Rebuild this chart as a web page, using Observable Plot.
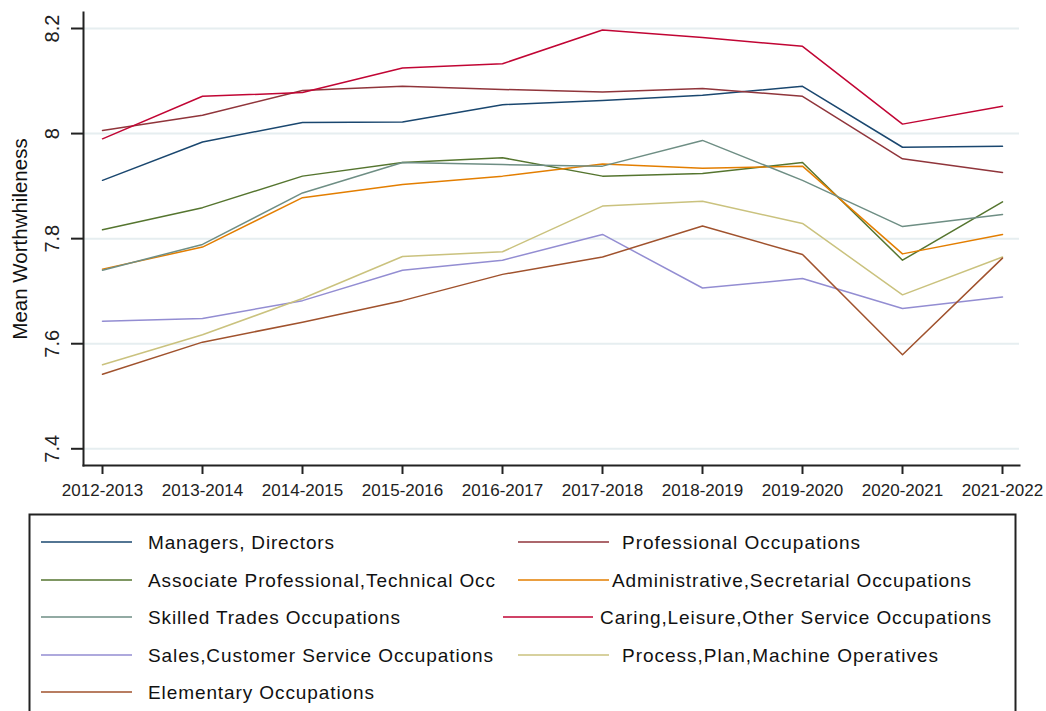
<!DOCTYPE html>
<html>
<head>
<meta charset="utf-8">
<script src="https://cdn.jsdelivr.net/npm/d3@7"></script>
<script src="https://cdn.jsdelivr.net/npm/@observablehq/plot@0.6"></script>
<style>
  html, body { margin: 0; padding: 0; background: #fff; }
  #chart { width: 1046px; height: 711px; position: relative; overflow: hidden; }
  #chart svg { display: block; }
</style>
</head>
<body>
<div id="chart"></div>
<script>
const years = ["2012-2013","2013-2014","2014-2015","2015-2016","2016-2017","2017-2018","2018-2019","2019-2020","2020-2021","2021-2022"];
const seriesNames = [
  "Managers, Directors",
  "Professional Occupations",
  "Associate Professional,Technical Occ",
  "Administrative,Secretarial Occupations",
  "Skilled Trades Occupations",
  "Caring,Leisure,Other Service Occupations",
  "Sales,Customer Service Occupations",
  "Process,Plan,Machine Operatives",
  "Elementary Occupations"
];
const seriesColors = ["#1a476f","#90353b","#55752f","#e37e00","#6e8e84","#c10534","#938dd2","#cac27e","#a0522d"];

const managers       = [7.911, 7.984, 8.021, 8.022, 8.055, 8.063, 8.073, 8.090, 7.974, 7.976];
const professional   = [8.006, 8.035, 8.082, 8.090, 8.084, 8.079, 8.086, 8.071, 7.952, 7.926];
const associate      = [7.817, 7.859, 7.919, 7.945, 7.954, 7.919, 7.924, 7.945, 7.759, 7.870];
const administrative = [7.742, 7.784, 7.878, 7.903, 7.919, 7.942, 7.934, 7.938, 7.771, 7.808];
const skilled        = [7.740, 7.789, 7.887, 7.945, 7.941, 7.938, 7.987, 7.911, 7.823, 7.846];
const caring         = [7.990, 8.071, 8.078, 8.125, 8.133, 8.197, 8.183, 8.166, 8.018, 8.052];
const sales          = [7.643, 7.648, 7.682, 7.740, 7.759, 7.808, 7.706, 7.724, 7.667, 7.689];
const processOps     = [7.560, 7.617, 7.686, 7.766, 7.775, 7.862, 7.871, 7.829, 7.693, 7.765];
const elementary     = [7.542, 7.603, 7.641, 7.682, 7.732, 7.765, 7.824, 7.770, 7.579, 7.763];

const yTicks = [7.4, 7.6, 7.8, 8, 8.2];
const yLabel = "Mean Worthwhileness";

const seriesValues = [managers, professional, associate, administrative, skilled, caring, sales, processOps, elementary];
const rows = [];
seriesNames.forEach((name, i) => {
  years.forEach((yr, j) => rows.push({series: name, year: yr, value: seriesValues[i][j]}));
});

const font = "'Liberation Sans', Arial, sans-serif";

const chart = Plot.plot({
  width: 1046,
  height: 512,
  marginLeft: 83,
  marginRight: 27,
  marginTop: 12,
  marginBottom: 47,
  style: {fontFamily: font, color: "#222", background: "#fff", overflow: "visible"},
  x: {type: "point", domain: years, range: [98, 1005], padding: 0},
  y: {domain: [7.4, 8.2], range: [448.3, 28]},
  color: {domain: seriesNames, range: seriesColors},
  marks: [
    Plot.gridY(yTicks, {stroke: "#e6eef0", strokeOpacity: 1, strokeWidth: 2}),
    Plot.line(rows, {x: "year", y: "value", z: "series", stroke: "series", strokeWidth: 1.5}),
    Plot.frame({anchor: "left", stroke: "#222", strokeWidth: 2}),
    Plot.frame({anchor: "bottom", stroke: "#222", strokeWidth: 2}),
    Plot.axisX({tickSize: 9, tickPadding: 9, fontSize: 17, stroke: "#222", strokeWidth: 2, label: null}),
    Plot.axisY(yTicks, {tickSize: 12, tickPadding: 19, fontSize: 20, tickRotate: -90,
      textAnchor: "middle", lineAnchor: "middle", stroke: "#222", strokeWidth: 2,
      tickFormat: d => String(d), label: null}),
    Plot.text([yLabel], {frameAnchor: "left", dx: -63, rotate: -90, fontSize: 20.5,
      textAnchor: "middle", lineAnchor: "middle", fill: "#111"})
  ]
});
document.getElementById("chart").appendChild(chart);

// Legend (below the plot)
const legendLayout = [
  {x1: 41, x2: 132, tx: 148, w: 186, row: 0},
  {x1: 518, x2: 609, tx: 622, w: 238, row: 0},
  {x1: 41, x2: 132, tx: 148, w: 347, row: 1},
  {x1: 518, x2: 609, tx: 612, w: 359, row: 1},
  {x1: 41, x2: 132, tx: 148, w: 252, row: 2},
  {x1: 503, x2: 593, tx: 600, w: 391, row: 2},
  {x1: 41, x2: 132, tx: 148, w: 345, row: 3},
  {x1: 518, x2: 609, tx: 622, w: 316, row: 3},
  {x1: 41, x2: 132, tx: 148, w: 226, row: 4}
];
const legendTop = 512;
const leg = d3.create("svg").attr("width", 1046).attr("height", 711 - legendTop)
  .style("position", "absolute").style("left", "0px").style("top", legendTop + "px")
  .style("font-family", font);
leg.append("rect").attr("x", 29.5).attr("y", 2.5).attr("width", 986).attr("height", 260)
  .attr("fill", "none").attr("stroke", "#222").attr("stroke-width", 2);
const rowY = [30, 68, 105, 143, 180];
seriesNames.forEach((name, i) => {
  const L = legendLayout[i];
  const y = rowY[L.row];
  leg.append("line").attr("x1", L.x1).attr("x2", L.x2).attr("y1", y).attr("y2", y)
    .attr("stroke", seriesColors[i]).attr("stroke-width", 1.6);
  leg.append("text").attr("x", L.tx).attr("y", y).attr("dy", "0.35em")
    .attr("font-size", 19).attr("fill", "#111")
    .attr("textLength", L.w).attr("lengthAdjust", "spacing")
    .text(name);
});
document.getElementById("chart").appendChild(leg.node());
</script>
</body>
</html>
